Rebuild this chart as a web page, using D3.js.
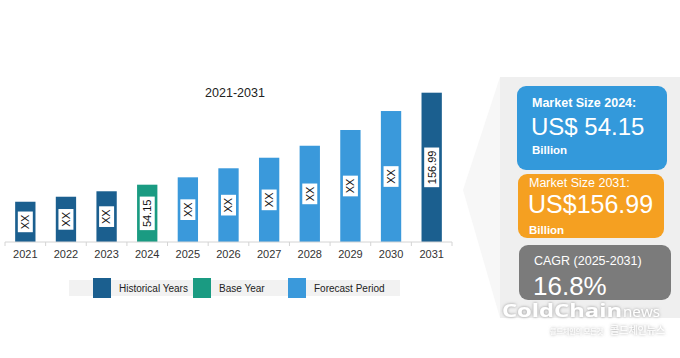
<!DOCTYPE html>
<html><head><meta charset="utf-8">
<script src="https://cdn.jsdelivr.net/npm/d3@7/dist/d3.min.js"></script>
<style>body{margin:0;background:#fff;}svg{display:block;font-family:"Liberation Sans",Arial,sans-serif;}</style>
</head><body>
<svg id="c" width="680" height="358"></svg>
<script>
const years = ["2021","2022","2023","2024","2025","2026","2027","2028","2029","2030","2031"];
const values = [35.1, 40.7, 46.8, 54.15, 62.4, 72.5, 84.3, 97.7, 115.3, 136.5, 156.99];
const labels = ["XX","XX","XX","54.15","XX","XX","XX","XX","XX","XX","156.99"];
const periods = ["hist","hist","hist","base","fore","fore","fore","fore","fore","fore","hist"];
const legendNames = ["Historical Years","Base Year","Forecast Period"];
const legendKeys = ["hist","base","fore"];
const title = "2021-2031";
const cards = [
  {head:"Market Size 2024:", big:"US$ 54.15", unit:"Billion"},
  {head:"Market Size 2031:", big:"US$156.99", unit:"Billion"},
  {head:"CAGR (2025-2031)", big:"16.8%", unit:""}
];

const color = d3.scaleOrdinal().domain(legendKeys).range(["#1b5f8f","#1a9b82","#3a99db"]);
const svg = d3.select("#c");
const defs = svg.append("defs");
const f = defs.append("filter").attr("id","sh").attr("x","-20%").attr("y","-50%").attr("width","140%").attr("height","200%");
f.append("feDropShadow").attr("dx",0).attr("dy",0).attr("stdDeviation",1.5).attr("flood-color","#888").attr("flood-opacity",0.9);

// right panel background
svg.append("polygon").attr("points","500,77 463,190 500,318").attr("fill","#f7f7f7");
svg.append("rect").attr("x",500).attr("y",77).attr("width",180).attr("height",241).attr("fill","#efefef");

const x = d3.scaleBand().domain(years).range([5,452]).paddingInner(0.5).paddingOuter(0.25);
const y = d3.scaleLinear().domain([-9.9,156.99]).range([242,92.7]);

svg.append("text").attr("x",235).attr("y",97).attr("text-anchor","middle")
  .attr("font-size",12.5).attr("fill","#222").text(title);

svg.selectAll(".bar").data(years).join("rect")
  .attr("x",d=>x(d)).attr("width",x.bandwidth())
  .attr("y",(d,i)=>y(values[i])).attr("height",(d,i)=>y.range()[0]-y(values[i]))
  .attr("fill",(d,i)=>color(periods[i]));

// labels
years.forEach((d,i)=>{
  const cx = x(d)+x.bandwidth()/2;
  const cy = (y(values[i])+242)/2;
  const g = svg.append("g").attr("transform",`translate(${cx},${cy}) rotate(-90)`);
  const t = g.append("text").attr("text-anchor","middle").attr("dy","0.35em")
    .attr("font-size",11).attr("fill","#111").text(labels[i]);
  const w = t.node().getComputedTextLength();
  g.insert("rect","text").attr("x",-w/2-3).attr("y",-7.5).attr("width",w+6).attr("height",15).attr("fill","#fff");
});

// axis
const ax = svg.append("g").attr("transform","translate(0,242)");
ax.append("line").attr("x1",5).attr("x2",452).attr("stroke","#d4d4d4").attr("stroke-width",1);
d3.range(years.length+1).forEach(i=>{
  const xx = 5 + i*(447/years.length);
  ax.append("line").attr("x1",xx).attr("x2",xx).attr("y1",0).attr("y2",4).attr("stroke","#d4d4d4");
});
ax.selectAll(".tl").data(years).join("text")
  .attr("x",d=>x(d)+x.bandwidth()/2).attr("y",15.5).attr("text-anchor","middle")
  .attr("font-size",11).attr("fill","#333").text(d=>d);

// legend
svg.append("rect").attr("x",69).attr("y",280).attr("width",331).attr("height",16).attr("fill","#f2f2f2");
const lx = [93,193,288];
legendKeys.forEach((k,i)=>{
  svg.append("rect").attr("x",lx[i]).attr("y",278).attr("width",18).attr("height",20).attr("fill",color(k));
  svg.append("text").attr("x",lx[i]+26).attr("y",291.5).attr("font-size",10).attr("fill","#222").text(legendNames[i]);
});

// cards
const cardBox = [
  {x:517,y:86,w:150,h:84,fill:"#3399db"},
  {x:518,y:174,w:146,h:64,fill:"#f5a021"},
  {x:519,y:245,w:152,h:55,fill:"#7b7b7b"}
];
cardBox.forEach(c=>svg.append("rect").attr("x",c.x).attr("y",c.y).attr("width",c.w).attr("height",c.h).attr("rx",9).attr("fill",c.fill));
// card 1
svg.append("text").attr("x",532).attr("y",107).attr("font-size",12.5).attr("font-weight","bold").attr("fill","#fff").text(cards[0].head);
svg.append("text").attr("x",531).attr("y",135).attr("font-size",24).attr("fill","#fff").text(cards[0].big);
svg.append("text").attr("x",532).attr("y",154).attr("font-size",11.5).attr("font-weight","bold").attr("fill","#fff").text(cards[0].unit);
// card 2
svg.append("text").attr("x",529).attr("y",187).attr("font-size",12.5).attr("fill","#fff").text(cards[1].head);
svg.append("text").attr("x",528).attr("y",213).attr("font-size",25).attr("fill","#fff").text(cards[1].big);
svg.append("text").attr("x",529).attr("y",234).attr("font-size",11.5).attr("font-weight","bold").attr("fill","#fff").text(cards[1].unit);
// card 3
svg.append("text").attr("x",534).attr("y",265).attr("font-size",12.5).attr("fill","#fff").text(cards[2].head);
svg.append("text").attr("x",533).attr("y",295).attr("font-size",26).attr("fill","#fff").text(cards[2].big);

// watermark
const wm = svg.append("g").attr("filter","url(#sh)");
wm.append("text").attr("x",502).attr("y",317).attr("font-size",18).attr("font-weight","bold").attr("fill","#fff")
  .attr("font-family","'Open Sans',sans-serif").attr("textLength",120).attr("lengthAdjust","spacingAndGlyphs").text("ColdChain");
wm.append("text").attr("x",623).attr("y",317).attr("font-size",15).attr("fill","#fff")
  .attr("font-family","'Open Sans',sans-serif").attr("textLength",37).attr("lengthAdjust","spacingAndGlyphs").text("news");
wm.append("text").attr("x",550).attr("y",334).attr("font-size",7).attr("fill","#fff").attr("font-family","'Noto Sans CJK KR',sans-serif")
  .text("콜드체인의 모든것");
wm.append("text").attr("x",610).attr("y",334).attr("font-size",10).attr("fill","#fff").attr("font-family","'Noto Sans CJK KR',sans-serif")
  .text("콜드체인뉴스");
</script>
</body></html>
